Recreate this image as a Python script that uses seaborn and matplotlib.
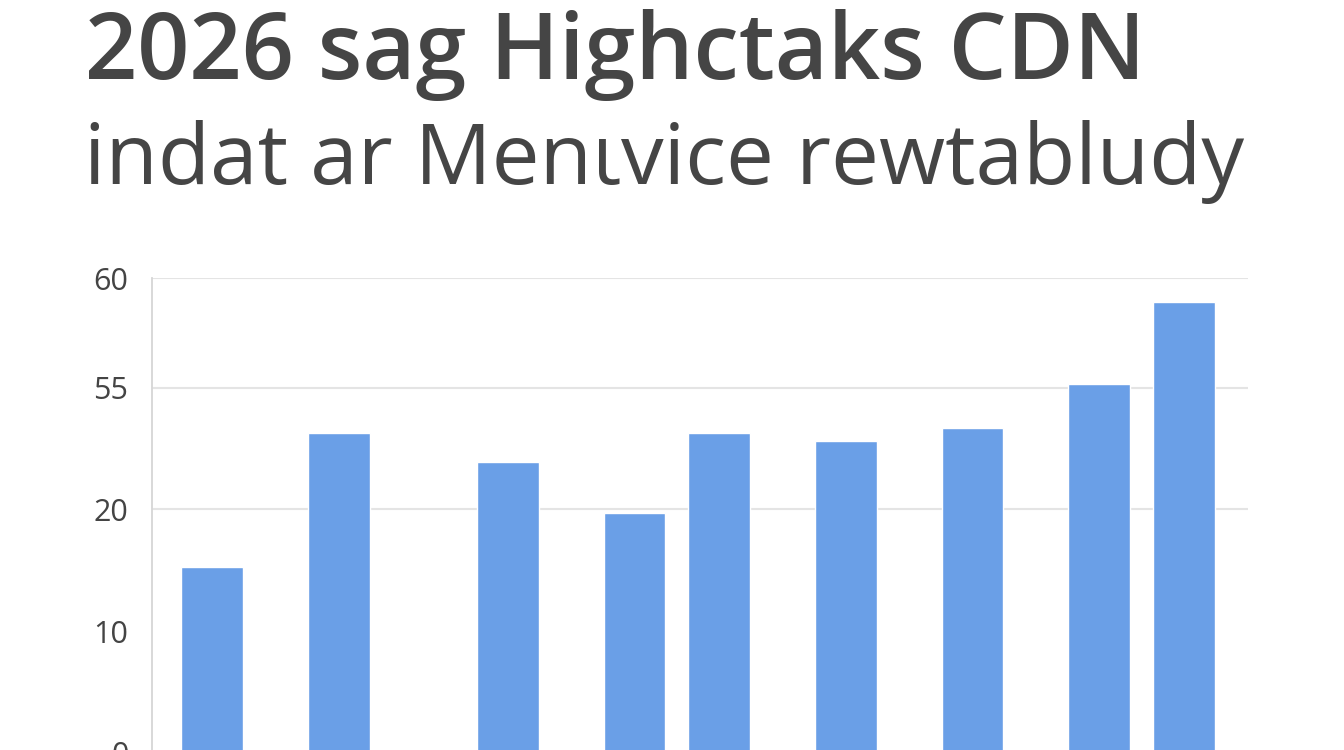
# 불규칙 간격 막대그래프 재현

import matplotlib
matplotlib.use("Agg")
import matplotlib.pyplot as plt
import seaborn as sns
import pandas as pd

# 데이터
positions = [0, 3, 7, 10, 12, 15, 18, 21, 23]
values = [15.3, 26.3, 23.9, 19.7, 26.3, 25.6, 26.7, 30.3, 37.0]
tick_pos = [0, 10, 20, 30, 39]
tick_labels = ["0", "10", "20", "55", "60"]
title_1 = "2026 sag Highctaks CDN"
title_2 = "indat ar Menιvice rewtabludy"

# 스타일
sns.set_style("white")
plt.rcParams['font.family'] = ['Open Sans', 'DejaVu Sans']

df = pd.DataFrame({"pos": positions, "value": values})

fig = plt.figure(figsize=(13.44, 7.5), dpi=100)
ax = fig.add_axes([152 / 1344, -3 / 750, (1248 - 152) / 1344, (753 - 278) / 750])

sns.barplot(data=df, x="pos", y="value", native_scale=True, width=0.733,
            color="#6a9fe7", saturation=1, errorbar=None, ax=ax)

ax.set_xlim(-1.42, 24.52)
ax.set_ylim(0, 39)
ax.set_yticks(tick_pos)
ax.set_yticklabels(tick_labels)
ax.set_xticks([])
ax.set_xlabel("")
ax.set_ylabel("")

# 그리드 (20 이상만)
ax.set_axisbelow(True)
ax.grid(axis="y", color="#e4e4e4", linewidth=1.5)
for gl in ax.get_ygridlines()[:2]:
    gl.set_visible(False)

ax.tick_params(axis="y", length=0, pad=17, labelsize=22, labelcolor="#444444")
for side in ["top", "right", "bottom"]:
    ax.spines[side].set_visible(False)
ax.spines["left"].set_color("#d6d6d6")
ax.spines["left"].set_linewidth(1.3)

# 제목
fig.text(85 / 1344, 1 - 79 / 750, title_1, fontsize=66, weight="semibold",
         color="#454545", ha="left", va="baseline")
fig.text(84 / 1344, 1 - 184 / 750, title_2, fontsize=61.5, weight="normal",
         color="#454545", ha="left", va="baseline")

fig.savefig("out.png", dpi=100)
